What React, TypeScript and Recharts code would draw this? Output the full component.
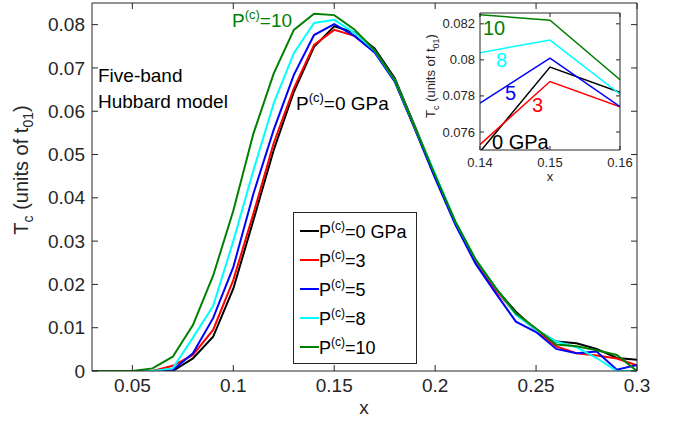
import React from "react";
import { LineChart, Line, XAxis, YAxis, Legend, CartesianGrid } from "recharts";

// doping x
const xValues = [
  0.03, 0.04, 0.05, 0.06, 0.07, 0.08, 0.09, 0.1, 0.11, 0.12, 0.13, 0.14, 0.15, 0.16,
  0.17, 0.18, 0.19, 0.2, 0.21, 0.22, 0.23, 0.24, 0.25, 0.26, 0.27, 0.28, 0.29, 0.3,
];

// Tc (units of t01) for each pressure
const tcP0 = [
  0, 0, 0, 0, 0, 0.0029, 0.0079, 0.019, 0.0349, 0.051, 0.0645, 0.0749, 0.0796, 0.0782,
  0.0745, 0.0676, 0.0565, 0.0452, 0.0345, 0.0256, 0.019, 0.0137, 0.0095, 0.0068, 0.0064, 0.0051, 0.003, 0.0026,
];
const tcP3 = [
  0, 0, 0, 0, 0.0012, 0.0037, 0.0095, 0.021, 0.0364, 0.0526, 0.0653, 0.0753, 0.0788, 0.0774,
  0.0738, 0.067, 0.056, 0.0448, 0.034, 0.0252, 0.0187, 0.0132, 0.0094, 0.0057, 0.0041, 0.0036, 0.0029, 0.0013,
];
const tcP5 = [
  0, 0, 0, 0, 0.0002, 0.0041, 0.0122, 0.024, 0.041, 0.0557, 0.0684, 0.0776, 0.0801, 0.0774,
  0.0736, 0.0668, 0.0558, 0.0445, 0.0338, 0.0248, 0.018, 0.0114, 0.009, 0.0051, 0.0041, 0.0045, 0.0003, 0.0014,
];
const tcP8 = [
  0, 0, 0, 0, 0.0006, 0.0077, 0.015, 0.03, 0.0464, 0.0618, 0.0734, 0.0804, 0.0811, 0.0781,
  0.074, 0.0672, 0.0562, 0.0455, 0.0345, 0.0258, 0.0192, 0.013, 0.0095, 0.0068, 0.0055, 0.003, 0, 0,
];
const tcP10 = [
  0, 0, 0, 0.0006, 0.0033, 0.0106, 0.022, 0.037, 0.0549, 0.0687, 0.0788, 0.0825, 0.0822, 0.0789,
  0.0741, 0.0672, 0.0562, 0.0452, 0.0345, 0.0258, 0.0192, 0.0133, 0.0098, 0.0061, 0.0057, 0.0048, 0.0037, 0,
];

const seriesKeys = ["p0", "p3", "p5", "p8", "p10"];
const seriesValues = [tcP0, tcP3, tcP5, tcP8, tcP10];
const pressureLabels = ["0 GPa", "3", "5", "8", "10"];
const seriesColors = ["#000000", "#ff0000", "#0000ff", "#00ffff", "#008000"];

const xTicks = [0.05, 0.1, 0.15, 0.2, 0.25, 0.3];
const xTickLabels = ["0.05", "0.1", "0.15", "0.2", "0.25", "0.3"];
const yTicks = [0, 0.01, 0.02, 0.03, 0.04, 0.05, 0.06, 0.07, 0.08];
const yTickLabels = ["0", "0.01", "0.02", "0.03", "0.04", "0.05", "0.06", "0.07", "0.08"];
const insetXTicks = [0.14, 0.15, 0.16];
const insetXTickLabels = ["0.14", "0.15", "0.16"];
const insetYTicks = [0.076, 0.078, 0.08, 0.082];
const insetYTickLabels = ["0.076", "0.078", "0.08", "0.082"];

const data = xValues.map((x, i) => {
  const row: any = { x };
  seriesKeys.forEach((k, j) => (row[k] = seriesValues[j][i]));
  return row;
});
const insetData = data.filter((d) => d.x > 0.1395 && d.x < 0.1605);

const AX = "#262626";
const FONT = "'Liberation Sans', Arial, Helvetica, sans-serif";

// matlab-ish inward ticks; x,y handed in sit on the axis line (tickSize/margin 0)
function makeTick(side: string, len: number, ticks?: number[], labels?: string[], fs = 19, gap = 0) {
  return (props: any) => {
    const { x, y, payload } = props;
    let label = "";
    if (ticks && labels) {
      const idx = ticks.findIndex((t) => Math.abs(t - payload.value) < 1e-9);
      label = idx >= 0 ? labels[idx] : "";
    }
    if (side === "bottom")
      return (
        <g>
          <line x1={x} x2={x} y1={y} y2={y - len} stroke={AX} />
          {label && (
            <text x={x} y={y + gap} textAnchor="middle" fill={AX} fontSize={fs} fontFamily={FONT}>
              {label}
            </text>
          )}
        </g>
      );
    if (side === "top") return <line x1={x} x2={x} y1={y} y2={y + len} stroke={AX} />;
    if (side === "left")
      return (
        <g>
          <line x1={x} x2={x + len} y1={y} y2={y} stroke={AX} />
          {label && (
            <text x={x - gap} y={y} dy="0.35em" textAnchor="end" fill={AX} fontSize={fs} fontFamily={FONT}>
              {label}
            </text>
          )}
        </g>
      );
    return <line x1={x} x2={x - len} y1={y} y2={y} stroke={AX} />;
  };
}

function LegendBox() {
  return (
    <div
      style={{
        border: `1px solid ${AX}`,
        background: "#fff",
        width: 122,
        padding: "2px 0 3px 0",
        fontFamily: FONT,
        boxSizing: "content-box",
      }}
    >
      {seriesKeys.map((k, i) => (
        <div key={k} style={{ display: "flex", alignItems: "center", height: 29 }}>
          <svg width={25} height={10}>
            <line x1={6} x2={25} y1={6} y2={6} stroke={seriesColors[i]} strokeWidth={2} />
          </svg>
          <span style={{ fontSize: 18, color: "#000", whiteSpace: "nowrap", lineHeight: "18px", paddingTop: 6 }}>
            P<span style={{ fontSize: 12, position: "relative", top: -8 }}>(c)</span>={pressureLabels[i]}
          </span>
        </div>
      ))}
    </div>
  );
}

export default function App() {
  const axisCommon = {
    tickSize: 0,
    tickMargin: 0,
    tickLine: false,
    interval: 0 as const,
    allowDataOverflow: true,
    axisLine: { stroke: AX },
  };
  return (
    <div style={{ position: "relative", width: 681, height: 426, background: "#fff" }}>
      <style>{"body{margin:0}"}</style>
      <LineChart width={681} height={426} data={data} margin={{ top: 2, right: 43, bottom: 54, left: 91 }}>
        <XAxis
          xAxisId="b"
          dataKey="x"
          type="number"
          domain={[0.03, 0.3]}
          ticks={xTicks}
          height={1}
          tick={makeTick("bottom", 6, xTicks, xTickLabels, 19, 21)}
          {...axisCommon}
        />
        <XAxis
          xAxisId="t"
          orientation="top"
          dataKey="x"
          type="number"
          domain={[0.03, 0.3]}
          ticks={xTicks}
          height={1}
          tick={makeTick("top", 6)}
          {...axisCommon}
        />
        <YAxis
          yAxisId="l"
          type="number"
          domain={[0, 0.085]}
          ticks={yTicks}
          width={1}
          tick={makeTick("left", 6, yTicks, yTickLabels, 19, 7)}
          {...axisCommon}
        />
        <YAxis
          yAxisId="r"
          orientation="right"
          type="number"
          domain={[0, 0.085]}
          ticks={yTicks}
          width={1}
          tick={makeTick("right", 6)}
          {...axisCommon}
        />
        {seriesKeys.map((k, i) => (
          <Line
            key={k}
            xAxisId="b"
            yAxisId="l"
            type="linear"
            dataKey={k}
            stroke={seriesColors[i]}
            strokeWidth={2}
            dot={false}
            isAnimationActive={false}
          />
        ))}
        <Legend
          layout="vertical"
          align="center"
          verticalAlign="middle"
          content={() => <LegendBox />}
          wrapperStyle={{ left: 293, top: 212, width: "auto", height: "auto" }}
        />
        <text x={364} y={414} textAnchor="middle" fill={AX} fontSize={19} fontFamily={FONT}>
          x
        </text>
        <text
          transform="translate(28,170) rotate(-90)"
          textAnchor="middle"
          fill={AX}
          fontSize={20}
          fontFamily={FONT}
        >
          T<tspan fontSize={14} dy={5}>c</tspan>
          <tspan dy={-5}> (units of t</tspan>
          <tspan fontSize={14} dy={5}>01</tspan>
          <tspan dy={-5}>)</tspan>
        </text>
        <text x={98} y={82} fill="#000" fontSize={19} fontFamily={FONT}>
          Five-band
        </text>
        <text x={98} y={108} fill="#000" fontSize={19} fontFamily={FONT}>
          Hubbard model
        </text>
        <text x={232} y={27} fill="#008000" fontSize={19} fontFamily={FONT}>
          P<tspan fontSize={13} dy={-8}>(c)</tspan>
          <tspan dy={8}>=10</tspan>
        </text>
        <text x={296} y={110} fill="#000" fontSize={19} fontFamily={FONT}>
          P<tspan fontSize={13} dy={-8}>(c)</tspan>
          <tspan dy={8}>=0 GPa</tspan>
        </text>
      </LineChart>

      <div style={{ position: "absolute", left: 420, top: 0 }}>
        <LineChart width={230} height={190} data={insetData} margin={{ top: 12, right: 29, bottom: 39, left: 59 }}>
          <CartesianGrid xAxisId="b" yAxisId="l" horizontal={false} vertical={false} fill="#fff" />
          <XAxis
            xAxisId="b"
            dataKey="x"
            type="number"
            domain={[0.14, 0.16]}
            ticks={insetXTicks}
            height={1}
            tick={makeTick("bottom", 4, insetXTicks, insetXTickLabels, 13, 17)}
            {...axisCommon}
          />
          <XAxis
            xAxisId="t"
            orientation="top"
            dataKey="x"
            type="number"
            domain={[0.14, 0.16]}
            ticks={insetXTicks}
            height={1}
            tick={makeTick("top", 4)}
            {...axisCommon}
          />
          <YAxis
            yAxisId="l"
            type="number"
            domain={[0.075, 0.0826]}
            ticks={insetYTicks}
            width={1}
            tick={makeTick("left", 4, insetYTicks, insetYTickLabels, 13, 5)}
            {...axisCommon}
          />
          <YAxis
            yAxisId="r"
            orientation="right"
            type="number"
            domain={[0.075, 0.0826]}
            ticks={insetYTicks}
            width={1}
            tick={makeTick("right", 4)}
            {...axisCommon}
          />
          {seriesKeys.map((k, i) => (
            <Line
              key={k}
              xAxisId="b"
              yAxisId="l"
              type="linear"
              dataKey={k}
              stroke={seriesColors[i]}
              strokeWidth={1.5}
              dot={false}
              isAnimationActive={false}
            />
          ))}
          <text x={130} y={181} textAnchor="middle" fill={AX} fontSize={13} fontFamily={FONT}>
            x
          </text>
          <text
            transform="translate(15,76) rotate(-90)"
            textAnchor="middle"
            fill={AX}
            fontSize={13}
            fontFamily={FONT}
          >
            T<tspan fontSize={9} dy={4}>c</tspan>
            <tspan dy={-4}> (units of t</tspan>
            <tspan fontSize={9} dy={4}>01</tspan>
            <tspan dy={-4}>)</tspan>
          </text>
          <text x={63} y={35} fill="#008000" fontSize={20} fontFamily={FONT}>10</text>
          <text x={76} y={67} fill="#00ffff" fontSize={20} fontFamily={FONT}>8</text>
          <text x={85} y={100} fill="#0000ff" fontSize={20} fontFamily={FONT}>5</text>
          <text x={112} y={112} fill="#ff0000" fontSize={20} fontFamily={FONT}>3</text>
          <text x={72} y={149} fill="#000" fontSize={20} fontFamily={FONT}>0 GPa</text>
        </LineChart>
      </div>
    </div>
  );
}
